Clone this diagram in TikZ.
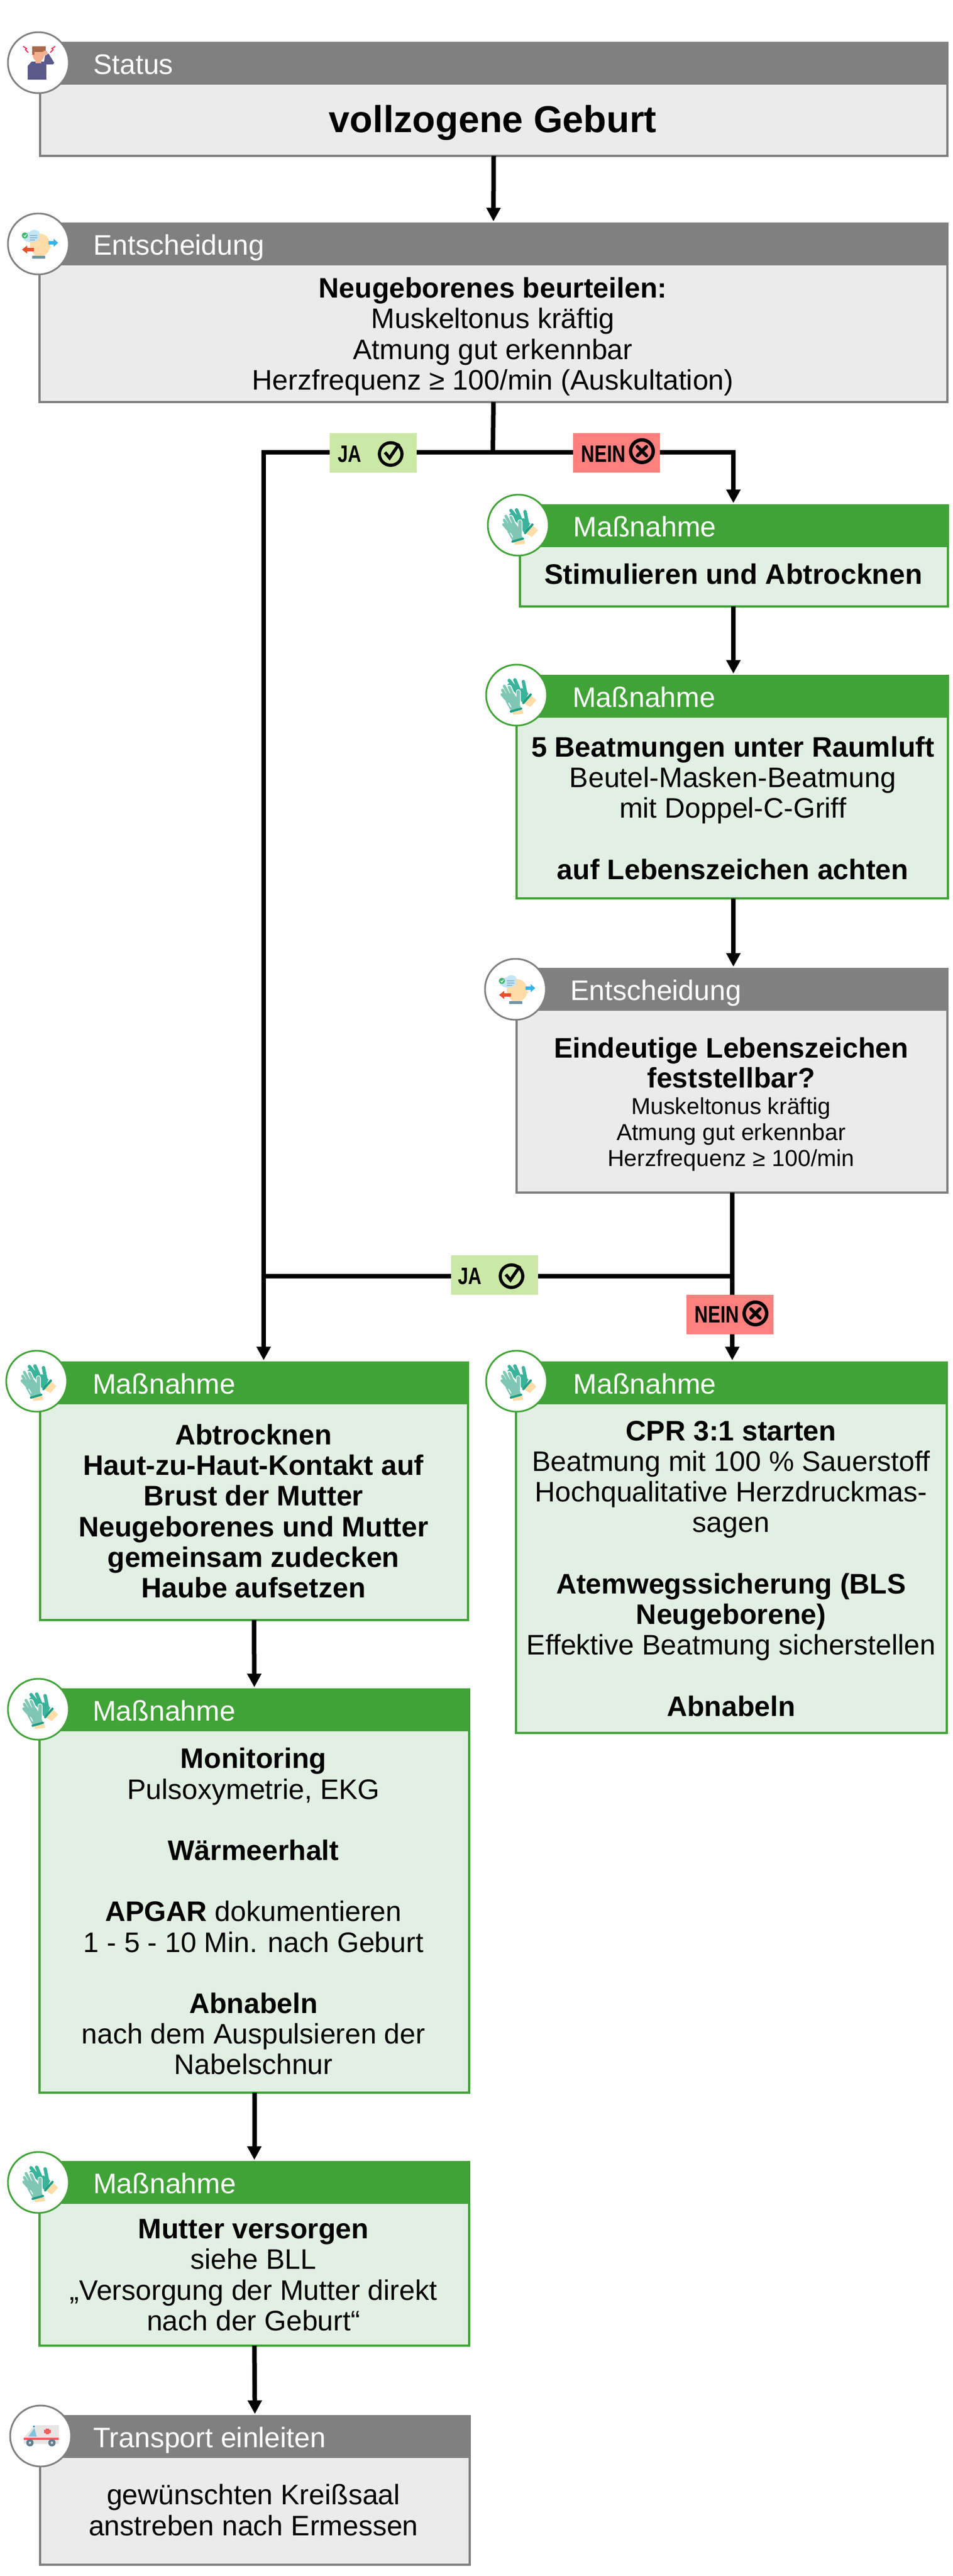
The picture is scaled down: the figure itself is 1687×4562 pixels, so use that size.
\documentclass[tikz,border=0pt]{standalone}
\usepackage{fontspec}
\usepackage{graphicx}
\setmainfont{Liberation Sans}
\usetikzlibrary{arrows.meta}
\definecolor{hgray}{HTML}{808080}
\definecolor{bgray}{HTML}{EBEBEB}
\definecolor{hgreen}{HTML}{41A337}
\definecolor{bgreen}{HTML}{E2F0E3}
\definecolor{tagja}{HTML}{CBE8A6}
\definecolor{tagnein}{HTML}{FF7F7F}
\definecolor{navy}{HTML}{5A5A8C}
\definecolor{skin}{HTML}{F4B08F}
\definecolor{hair}{HTML}{A86A4A}
\definecolor{peach}{HTML}{FFDCA8}
\definecolor{gdark}{HTML}{3AB39B}
\definecolor{gcuff}{HTML}{1F9E87}
\definecolor{glight}{HTML}{7FC7B4}
\definecolor{basebar}{HTML}{6F93A6}
\definecolor{cloud}{HTML}{C5E5F5}
\definecolor{okgreen}{HTML}{3FB56F}
\definecolor{cloudline}{HTML}{8DBBD0}
\definecolor{arrblue}{HTML}{35B5E8}
\definecolor{arrred}{HTML}{E8502A}
\definecolor{ambbody}{HTML}{E6E6E6}
\definecolor{ambwin}{HTML}{7FC4DC}
\definecolor{amblight}{HTML}{1B75BB}
\definecolor{ambred}{HTML}{F0605E}
\definecolor{ambwheel}{HTML}{607D8B}
\definecolor{ambhub}{HTML}{D0D8DC}
\definecolor{bolt}{HTML}{E8365D}
\tikzset{
  boxgray/.style={draw=hgray,fill=bgray,line width=4pt,inner sep=0pt,outer sep=0pt,anchor=north west},
  boxgreen/.style={draw=hgreen,fill=bgreen,line width=4pt,inner sep=0pt,outer sep=0pt,anchor=north west},
  hdrgray/.style={fill=hgray,inner sep=0pt,outer sep=0pt,anchor=north west},
  hdrgreen/.style={fill=hgreen,inner sep=0pt,outer sep=0pt,anchor=north west},
  htext/.style={text=white,anchor=base west,inner sep=0pt,font=\fontsize{50}{54}\selectfont},
  btext/.style={align=center,inner sep=0pt,font=\fontsize{50}{54.2}\selectfont},
  circgray/.style={circle,draw=hgray,fill=white,line width=3pt,minimum size=108pt,inner sep=0pt},
  circgreen/.style={circle,draw=hgreen,fill=white,line width=3pt,minimum size=108pt,inner sep=0pt},
  flow/.style={draw=black,line width=8pt},
  flowarrow/.style={draw=black,line width=8pt,shorten >=4pt,-{Triangle[length=24pt,width=24pt]}},
  tagyes/.style={fill=tagja,minimum width=154pt,minimum height=70pt,inner sep=0pt},
  tagno/.style={fill=tagnein,minimum width=154pt,minimum height=70pt,inner sep=0pt},
  tagtext/.style={inner sep=0pt,font=\fontsize{42}{46}\bfseries\selectfont},
  iconperson/.pic={
    \fill[navy] (-19,30) -- (-19,6) -- (-12,-2) -- (12,-2) -- (14,4) -- (14,30) -- cycle;
    \fill[navy] (10,-2) -- (12,-14) -- (18,-16) -- (28,0) -- (26,3) -- (12,3) -- cycle;
    \fill[skin] (-5,-6) rectangle (5,1);
    \fill[skin] (0,-13) ellipse (10 and 11);
    \fill[hair] (-11,-29) rectangle (13,-19);
    \fill[hair] (-11,-29) rectangle (-7,-14);
    \fill[skin] (12,-17) circle (4.5);
    \draw[line width=2pt,bolt] (-27,-29) -- (-21,-25) -- (-23,-23) -- (-18,-18);
    \draw[line width=2pt,bolt] (30,-29) -- (24,-25) -- (26,-23) -- (21,-18);
  },
  iconhead/.pic={
    \fill[peach] (3,2) ellipse (18 and 20);
    \fill[peach] (-7,10) rectangle (8,24);
    \fill[peach] (18,0) -- (23,6) -- (19,8) -- cycle;
    \fill[basebar] (-11,21) rectangle (12,26);
    \fill[cloud] (-13,-12) ellipse (15 and 9);
    \fill[cloud] (-7,-18) ellipse (9 and 7);
    \fill[okgreen] (-24,-15) circle (5.5);
    \draw[line width=1.4pt,white] (-26,-15) -- (-24,-13) -- (-21,-17);
    \draw[line width=1.2pt,cloudline] (-15,-15) -- (-2,-15) (-15,-11) -- (-2,-11) (-15,-7) -- (-6,-7);
    \fill[arrblue] (18,-5) -- (27,-5) -- (27,-9) -- (35,-2) -- (27,5) -- (27,1) -- (18,1) -- cycle;
    \fill[arrred] (-8,7) -- (-20,7) -- (-20,3) -- (-29,10) -- (-20,17) -- (-20,13) -- (-8,13) -- cycle;
  },
  icongloves/.pic={
    \fill[peach] (26,1) -- (35,9) -- (24,21) -- (14,15) -- cycle;
    \fill[peach] (-7,30) -- (11,26) -- (12,33) -- (-6,35) -- cycle;
    \fill[gdark] (-8,-10) -- (10,-12) -- (21,-3) -- (13,14) -- (3,8) -- cycle;
    \draw[gdark,line width=6pt,line cap=round] (3,-6) -- (-13,-26) (6,-6) -- (-3,-27) (-1,-3) -- (-13,-18) (16,-4) -- (12,-24);
    \draw[gcuff,line width=4pt,line cap=round] (25,-1) -- (12,14);
    \draw[white,line width=8.5pt,line cap=round] (-6,2) -- (-13,-14) (3,15) -- (3,-6);
    \fill[white] (-22,-6) -- (-4,-6) -- (7,8) -- (11,24) -- (-11,31) -- (-22,14) -- cycle;
    \fill[glight] (-20,-3) -- (-5,-3) -- (3,8) -- (8,24) -- (-10,28) -- (-19,12) -- cycle;
    \draw[glight,line width=5pt,line cap=round] (-12,2) -- (-22,-16) (-6,2) -- (-13,-14) (-16,6) -- (-25,-9) (-18,8) -- (-26,-1);
    \draw[glight,line width=6pt,line cap=round] (3,15) -- (3,-6);
    \draw[gcuff,line width=4pt,line cap=round] (-10,29) -- (8,24);
    \draw[white,line width=1.5pt,line cap=round] (-14,14) -- (-10,21);
  },
  iconambul/.pic={
    \fill[ambbody] (-30,14) -- (-30,3) -- (-15,-14) -- (-8,-19) -- (32,-19) -- (32,14) -- cycle;
    \fill[ambwin] (-22,1) -- (-11,-14) -- (-7,1) -- cycle;
    \fill[amblight] (-12,-17) circle (1.8);
    \fill[ambred] (-30,3) rectangle (32,7);
    \fill[ambred] (9,-13) rectangle (15,-3);
    \fill[ambred] (6,-11) rectangle (18,-5);
    \fill[ambwheel] (-19,12) circle (6.5);
    \fill[ambwheel] (20,12) circle (6.5);
    \fill[ambhub] (-19,12) circle (2.2);
    \fill[ambhub] (20,12) circle (2.2);
  },
  okmark/.pic={
    \draw[line width=5.5pt] (0,0) circle (20);
    \draw[line width=5.5pt] (-10,-3) -- (-2,7) -- (15,-18);
  },
  nomark/.pic={
    \draw[line width=6pt] (0,0) circle (20);
    \draw[line width=6pt,line cap=round] (-8,-8) -- (8,8) (-8,8) -- (8,-8);
  },
}
% name, colour word, left, right, top, bottom (box outline centre lines; header top)
\newcommand{\flowbox}[6]{%
  \node[box#2,minimum width={(#4-#3)*1pt},minimum height={(#6-#5-2)*1pt}] (#1) at (#3,#5+2) {};
  \node[hdr#2,minimum width={(#4-#3+4)*1pt},minimum height=76pt] (#1h) at (#3-2,#5) {};
}
\newcommand{\boxcirc}[5]{%
  \node[circ#2] (#1c) at (#3,#4) {};
  \pic at (#3,#4) {#5};
}
\begin{document}
\begin{tikzpicture}[x=1pt,y=-1pt]
\useasboundingbox (0,0) rectangle (1687,4562);

\coordinate (jt) at (873,801);
\coordinate (jleft) at (467,801);
\coordinate (jright) at (1299,801);
\coordinate (jlow) at (1297,2260);
\coordinate (jlowl) at (467,2260);

% boxes
\flowbox{sta}{gray}{71}{1678}{74}{276}
\node[htext] at (sta.north west) [xshift=94pt,yshift=-55pt] (stat) {Status};
\node[btext,font=\fontsize{66.5}{70}\bfseries\selectfont] (stab) at (873,217) {vollzogene Geburt};
\boxcirc{sta}{gray}{68}{111}{iconperson}

\flowbox{ent}{gray}{70}{1678}{394}{712}
\node[htext] at (ent.north west) [xshift=95pt,yshift=-55pt] (entt) {Entscheidung};
\node[btext] (entb) at (873,596) {\textbf{Neugeborenes beurteilen:}\\Muskeltonus kräftig\\Atmung gut erkennbar\\Herzfrequenz ≥ 100/min (Auskultation)};
\boxcirc{ent}{gray}{68}{432}{iconhead}

\flowbox{ma}{green}{920.5}{1679}{893}{1074}
\node[htext] at (ma.north west) [xshift=95pt,yshift=-55pt] (mat) {Maßnahme};
\node[btext] (mab) at (1299,1017) {\textbf{Stimulieren und Abtrocknen}};
\boxcirc{ma}{green}{918}{930}{icongloves}

\flowbox{mb}{green}{915}{1679}{1195}{1591}
\node[htext] at (mb.north west) [xshift=99pt,yshift=-55pt] (mbt) {Maßnahme};
\node[btext] (mbb) at (1298,1431) {\textbf{5 Beatmungen unter Raumluft}\\Beutel-Masken-Beatmung\\mit Doppel-C-Griff\\\mbox{}\\\textbf{auf Lebenszeichen achten}};
\boxcirc{mb}{green}{915}{1231}{icongloves}

\flowbox{ez}{gray}{915}{1678}{1714}{2112}
\node[htext] at (ez.north west) [xshift=95pt,yshift=-55pt] (ezt) {Entscheidung};
\node[btext,font=\fontsize{50}{53.5}\bfseries\selectfont] (ezb) at (1295,1882) {Eindeutige Lebenszeichen\\feststellbar?};
\node[btext,font=\fontsize{41}{45.7}\selectfont] (ezc) at (1295,2009) {Muskeltonus kräftig\\Atmung gut erkennbar\\Herzfrequenz ≥ 100/min};
\boxcirc{ez}{gray}{913}{1752}{iconhead}

\flowbox{mc}{green}{71}{829}{2411}{2869}
\node[htext] at (mc.north west) [xshift=93pt,yshift=-55pt] (mct) {Maßnahme};
\node[btext,font=\fontsize{50}{54.2}\bfseries\selectfont] (mcb) at (449,2676) {Abtrocknen\\Haut-zu-Haut-Kontakt auf\\Brust der Mutter\\Neugeborenes und Mutter\\gemeinsam zudecken\\Haube aufsetzen};
\boxcirc{mc}{green}{65}{2446}{icongloves}

\flowbox{md}{green}{913.5}{1677}{2411}{3069}
\node[htext] at (md.north west) [xshift=102pt,yshift=-55pt] (mdt) {Maßnahme};
\node[btext] (mdb) at (1295,2778) {\textbf{CPR 3:1 starten}\\Beatmung mit 100 \% Sauerstoff\\Hochqualitative Herzdruckmas-\\sagen\\\mbox{}\\\textbf{Atemwegssicherung (BLS}\\\textbf{Neugeborene)}\\Effektive Beatmung sicherstellen\\\mbox{}\\\textbf{Abnabeln}};
\boxcirc{md}{green}{915}{2446}{icongloves}

\flowbox{me}{green}{70}{831}{2990}{3706}
\node[htext] at (me.north west) [xshift=94pt,yshift=-55pt] (met) {Maßnahme};
\node[btext] (meb) at (449,3385) {\textbf{Monitoring}\\Pulsoxymetrie, EKG\\\mbox{}\\\textbf{Wärmeerhalt}\\\mbox{}\\\textbf{APGAR} dokumentieren\\1 - 5 - 10 Min. nach Geburt\\\mbox{}\\\textbf{Abnabeln}\\nach dem Auspulsieren der\\Nabelschnur};
\boxcirc{me}{green}{68}{3027}{icongloves}

\flowbox{mf}{green}{70}{831}{3827}{4154}
\node[htext] at (mf.north west) [xshift=95pt,yshift=-55pt] (mft) {Maßnahme};
\node[btext] (mfb) at (449,4029) {\textbf{Mutter versorgen}\\siehe BLL\\„Versorgung der Mutter direkt\\nach der Geburt“};
\boxcirc{mf}{green}{68}{3865}{icongloves}

\flowbox{tr}{gray}{71}{832}{4277}{4542}
\node[htext] at (tr.north west) [xshift=94pt,yshift=-55pt] (trt) {Transport einleiten};
\node[btext] (trb) at (449,4445) {gewünschten Kreißsaal\\anstreben nach Ermessen};
\boxcirc{tr}{gray}{72}{4314}{iconambul}

% connectors
\draw[flowarrow] (sta.south) -- (ent.north);
\draw[flow] (ent.south) -- (jt);
\draw[flowarrow] (jleft) -- (jleft |- mc.north);
\draw[flow,line cap=rect] (jleft) -- (jright);
\draw[flowarrow] (jright) -- (jright |- ma.north);
\draw[flowarrow] (ma.south -| jright) -- (jright |- mb.north);
\draw[flowarrow] (mb.south -| jright) -- (jright |- ez.north);
\draw[flow] (ez.south -| jlow) -- (jlow);
\draw[flow,line cap=rect] (jlowl) -- (jlow);
\draw[flowarrow] (jlow) -- (jlow |- md.north);
\draw[flowarrow] (mc.south) -- (me.north);
\draw[flowarrow] (me.south) -- (mf.north);
\draw[flowarrow] (mf.south) -- (tr.north);

% tags
\node[tagyes] (ja1) at (660.5,802) {};
\node[tagtext] (ja1t) at (619,804) {\scalebox{.78}[1]{JA}};
\pic at (692,804) {okmark};
\node[tagno] (ne1) at (1092,802) {};
\node[tagtext] (ne1t) at (1069,804) {\scalebox{.78}[1]{NEIN}};
\pic at (1137,799) {nomark};
\node[tagyes] (ja2) at (875.5,2258) {};
\node[tagtext] (ja2t) at (832,2260) {\scalebox{.78}[1]{JA}};
\pic at (906,2260) {okmark};
\node[tagno] (ne2) at (1293,2328) {};
\node[tagtext] (ne2t) at (1270,2328) {\scalebox{.78}[1]{NEIN}};
\pic at (1338,2326) {nomark};
\end{tikzpicture}
\end{document}
